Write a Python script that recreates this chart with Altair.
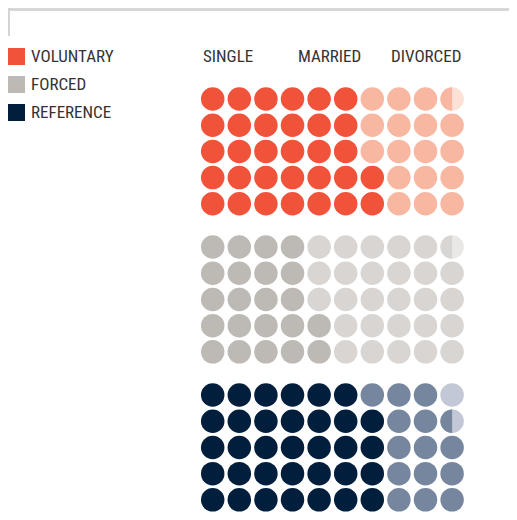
import altair as alt
import pandas as pd
import math

# ---- data (percent of respondents, each circle = 2%) ----
groups = ["VOLUNTARY", "FORCED", "REFERENCE"]
categories = ["SINGLE", "MARRIED", "DIVORCED"]
single = [64, 44, 68]
married = [35, 55, 29]
divorced = [1, 1, 3]

dark_colors = ["#F0523A", "#BDB9B4", "#011F3D"]
palette = {
    "VOLUNTARY": ["#F0523A", "#F8B7A0", "#FDE0D6"],
    "FORCED": ["#BDB9B4", "#D8D5D2", "#EAE8E6"],
    "REFERENCE": ["#011F3D", "#76869E", "#C2C8D6"],
}

# header label anchors (in column units)
header_x = [-0.365, 3.207, 6.703]

ROWS, COLS = 5, 10
PER = 100 / (ROWS * COLS)
GROUP_GAP = 5.65

full_rows, part_rows = [], []
for gi, g in enumerate(groups):
    vals = [single[gi], married[gi], divorced[gi]]
    bounds = []
    acc = 0
    for v in vals:
        acc += v / PER
        bounds.append(acc)
    for k in range(ROWS * COLS):
        col = k // ROWS
        row = (ROWS - 1) - (k % ROWS)
        y = gi * GROUP_GAP + row
        lo, hi = k, k + 1
        cat_hi = next(i for i, b in enumerate(bounds) if b >= hi - 1e-9)
        cat_lo = next(i for i, b in enumerate(bounds) if b > lo + 1e-9)
        full_rows.append({"col": col, "y": y, "hex": palette[g][cat_hi]})
        if cat_lo != cat_hi:
            f = bounds[cat_lo] - k
            xs = -1 + 2 * f
            ys = math.sqrt(max(0.0, 1 - xs * xs))
            large = 1 if f > 0.5 else 0
            path = f"M {xs:.4f} {-ys:.4f} A 1 1 0 {large} 0 {xs:.4f} {ys:.4f} Z"
            part_rows.append({"col": col, "y": y, "hex": palette[g][cat_lo], "path": path})

full_df = pd.DataFrame(full_rows)
part_df = pd.DataFrame(part_rows)
head_df = pd.DataFrame({"label": categories, "x": header_x, "y": [-1.603] * 3})
leg_df = pd.DataFrame({"group": groups})

W, H = 501, 504
xscale = alt.Scale(domain=[-7.696, 11.139], nice=False, zero=False)
yscale = alt.Scale(domain=[-3.4733, 15.763], nice=False, zero=False, reverse=True)
FONT = "Roboto Condensed, DejaVu Sans Condensed, sans-serif"
FS = 17
SIZE = 552

X = alt.X("col:Q", scale=xscale, axis=None)
Y = alt.Y("y:Q", scale=yscale, axis=None)

circles = alt.Chart(full_df).mark_circle(size=SIZE, opacity=1, strokeWidth=0).encode(
    x=X, y=Y, fill=alt.Fill("hex:N", scale=None)
)
partial = alt.Chart(part_df).mark_point(size=SIZE, filled=True, opacity=1, strokeWidth=0).encode(
    x=X, y=Y, fill=alt.Fill("hex:N", scale=None), shape=alt.Shape("path:N", scale=None)
)
headers = alt.Chart(head_df).mark_text(
    align="left", baseline="middle", font=FONT, fontSize=FS, color="#333333"
).encode(
    x=alt.X("x:Q", scale=xscale, axis=None),
    y=alt.Y("y:Q", scale=yscale, axis=None),
    text="label:N",
)
legend_layer = alt.Chart(leg_df).mark_square(opacity=0).encode(
    x=alt.value(0),
    y=alt.value(0),
    color=alt.Color(
        "group:N",
        scale=alt.Scale(domain=groups, range=dark_colors),
        legend=alt.Legend(
            title=None, orient="none", legendX=0, legendY=40, padding=0,
            symbolType="square", symbolSize=289, symbolOpacity=1, symbolStrokeWidth=0,
            labelFont=FONT, labelFontSize=FS, labelColor="#333333", labelOffset=6,
            rowPadding=10,
        ),
    ),
)
border_h = alt.Chart(leg_df).mark_rule(color="#D4D4D4", strokeWidth=2).encode(
    x=alt.value(0), x2=alt.value(W), y=alt.value(1.5)
)
border_v = alt.Chart(leg_df).mark_rule(color="#D4D4D4", strokeWidth=2).encode(
    x=alt.value(1), y=alt.value(0.5), y2=alt.value(28)
)

chart = alt.layer(border_h, border_v, legend_layer, circles, partial, headers).properties(
    width=W, height=H, padding=0, autosize=alt.AutoSizeParams(type="none")
).configure_view(stroke=None)

chart.save("out.html", embed_options={"renderer": "svg", "actions": False})
